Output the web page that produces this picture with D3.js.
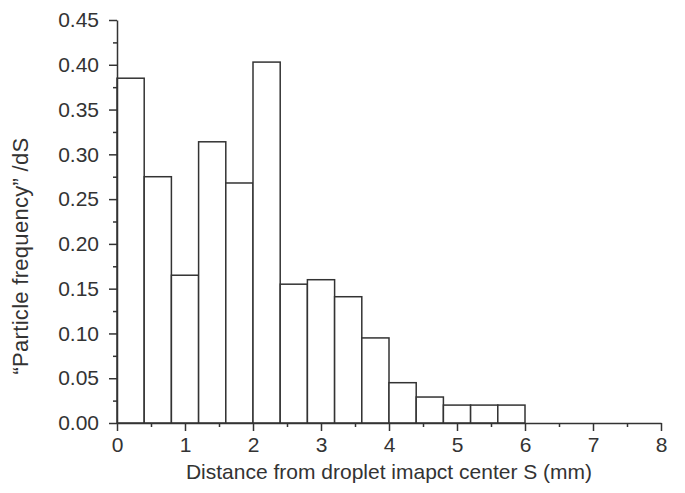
<!DOCTYPE html>
<html>
<head>
<meta charset="utf-8">
<script src="https://cdn.jsdelivr.net/npm/d3@7"></script>
<style>
  body { margin: 0; background: #fff; }
  text { font-family: "Liberation Sans", Arial, sans-serif; fill: #333; }
  .axis path, .axis line { stroke: #333; stroke-width: 1.5; }
  .bar { fill: #fff; stroke: #333; stroke-width: 1.5; }
</style>
</head>
<body>
<svg width="685" height="493"></svg>
<script>
// bin edges (mm), width 0.4
var binStarts = [0, 0.4, 0.8, 1.2, 1.6, 2.0, 2.4, 2.8, 3.2, 3.6, 4.0, 4.4, 4.8, 5.2, 5.6];
var binWidth = 0.4;
var frequency = [0.385, 0.275, 0.165, 0.314, 0.268, 0.403, 0.155, 0.160, 0.141, 0.095, 0.045, 0.029, 0.020, 0.020, 0.020];
var xTicks = [0, 1, 2, 3, 4, 5, 6, 7, 8];
var yTicks = [0, 0.05, 0.10, 0.15, 0.20, 0.25, 0.30, 0.35, 0.40, 0.45];

var svg = d3.select("svg"),
    margin = {top: 20, right: 24, bottom: 70, left: 117},
    width = +svg.attr("width") - margin.left - margin.right,
    height = +svg.attr("height") - margin.top - margin.bottom;

var x = d3.scaleLinear().domain([0, 8]).range([0, width]),
    y = d3.scaleLinear().domain([0, 0.45]).range([height, 0]);

var g = svg.append("g")
  .attr("transform", "translate(" + margin.left + "," + margin.top + ")");

var data = binStarts.map(function(s, i) { return {x0: s, x1: s + binWidth, v: frequency[i]}; });

g.selectAll(".bar")
  .data(data)
  .enter().append("rect")
  .attr("class", "bar")
  .attr("x", function(d) { return x(d.x0); })
  .attr("y", function(d) { return y(d.v); })
  .attr("width", function(d) { return x(d.x1) - x(d.x0); })
  .attr("height", function(d) { return height - y(d.v); });

// minor ticks
g.append("g")
  .attr("class", "axis")
  .attr("transform", "translate(0," + height + ")")
  .call(d3.axisBottom(x).tickValues(d3.range(0.5, 8, 1)).tickSize(4).tickFormat(""))
  .select(".domain").remove();

g.append("g")
  .attr("class", "axis")
  .call(d3.axisLeft(y).tickValues(d3.range(0.025, 0.45, 0.05)).tickSize(4).tickFormat(""))
  .select(".domain").remove();

// major axes
var xa = g.append("g")
  .attr("class", "axis")
  .attr("transform", "translate(0," + height + ")")
  .call(d3.axisBottom(x).tickValues(xTicks).tickSize(8).tickSizeOuter(0).tickPadding(6).tickFormat(d3.format("d")));
xa.selectAll("text").style("font-size", "21px");

var ya = g.append("g")
  .attr("class", "axis")
  .call(d3.axisLeft(y).tickValues(yTicks).tickSize(8).tickSizeOuter(0).tickPadding(10).tickFormat(d3.format(".2f")));
ya.selectAll("text").style("font-size", "21px");

svg.append("text")
  .attr("x", 389)
  .attr("y", 479)
  .attr("text-anchor", "middle")
  .style("font-size", "21px")
  .text("Distance from droplet imapct center S (mm)");

svg.append("text")
  .attr("transform", "translate(28,256) rotate(-90)")
  .attr("text-anchor", "middle")
  .style("font-size", "22px")
  .style("letter-spacing", "0.3px")
  .text("\u201cParticle frequency\u201d /dS");
</script>
</body>
</html>
